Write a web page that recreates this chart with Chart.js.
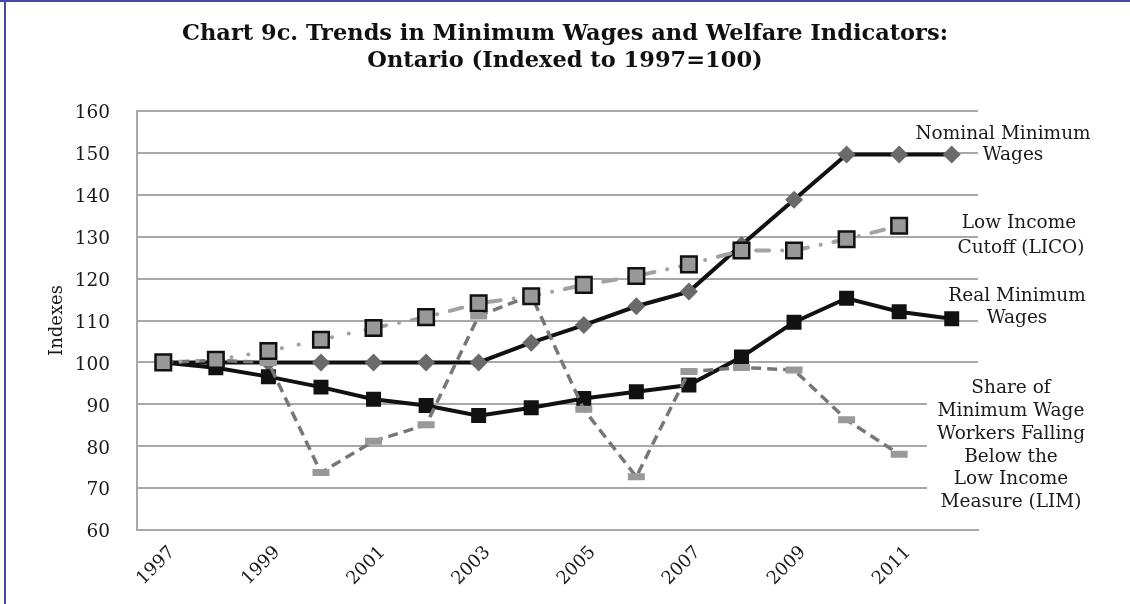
<!DOCTYPE html>
<html>
<head>
<meta charset="utf-8">
<title>Chart 9c. Trends in Minimum Wages and Welfare Indicators: Ontario</title>
<script src="https://cdn.jsdelivr.net/npm/chart.js@4.4.1/dist/chart.umd.min.js"></script>
<style>
  html, body { margin: 0; padding: 0; background: #fff; }
  canvas { display: block; }
</style>
</head>
<body>
<canvas id="chart" width="1130" height="604"></canvas>
<script>
// ---- data (Ontario, indexed to 1997 = 100) ----
const years = ['1997', '1998', '1999', '2000', '2001', '2002', '2003', '2004',
               '2005', '2006', '2007', '2008', '2009', '2010', '2011', '2012'];
const labelledYears = ['1997', '1999', '2001', '2003', '2005', '2007', '2009', '2011'];

const nominalMinWage = [100, 100, 100, 100, 100, 100, 100, 104.7,
                        108.9, 113.4, 116.9, 128, 138.8, 149.6, 149.6, 149.6];
const realMinWage    = [100, 98.7, 96.6, 94.1, 91.2, 89.7, 87.3, 89.2,
                        91.4, 93.0, 94.6, 101.3, 109.6, 115.3, 112.1, 110.4];
const lowIncomeCutoff = [100, 100.6, 102.7, 105.4, 108.2, 110.8, 114.1, 115.8,
                         118.5, 120.6, 123.4, 126.7, 126.7, 129.4, 132.6, null];
const shareBelowLIM  = [100, 100.5, 100, 73.7, 81.2, 85.1, 111.1, 116,
                        88.8, 72.7, 97.8, 98.8, 98.2, 86.3, 78.1, null];

const yMin = 60, yMax = 160, yStep = 10;

const titleLines = ['Chart 9c. Trends in Minimum Wages and Welfare Indicators:',
                    'Ontario (Indexed to 1997=100)'];
const yAxisTitle = 'Indexes';
const noteNominal = ['Nominal Minimum', 'Wages'];
const noteLICO    = ['Low Income', 'Cutoff (LICO)'];
const noteReal    = ['Real Minimum', 'Wages'];
const noteLIM     = ['Share of', 'Minimum Wage', 'Workers Falling', 'Below the', 'Low Income', 'Measure (LIM)'];

// ---- styling ----
const SERIF = '"DejaVu Serif", "Liberation Serif", serif';
const TEXT = '#1a1a1a';
const GRID = '#a8a8a8';

// Background, frame lines, title, and the series notes at the right.
const decorations = {
  id: 'decorations',
  beforeDraw(chart) {
    const ctx = chart.ctx;
    ctx.save();
    ctx.fillStyle = '#fff';
    ctx.fillRect(0, 0, chart.width, chart.height);
    ctx.strokeStyle = '#4646a6';
    ctx.lineWidth = 2;
    ctx.beginPath();
    ctx.moveTo(0, 1); ctx.lineTo(chart.width, 1);
    ctx.moveTo(5, 0); ctx.lineTo(5, chart.height);
    ctx.stroke();

    ctx.fillStyle = '#111';
    ctx.font = 'bold 22.5px ' + SERIF;
    ctx.textAlign = 'center';
    ctx.textBaseline = 'alphabetic';
    ctx.fillText(titleLines[0], 565, 40);
    ctx.fillText(titleLines[1], 565, 67);
    ctx.restore();
  },
  afterDraw(chart) {
    const ctx = chart.ctx;
    ctx.save();
    // the LIM note sits on a white box that hides the grid behind it
    ctx.fillStyle = '#fff';
    ctx.fillRect(927, 372, 203, 144);

    ctx.fillStyle = TEXT;
    ctx.font = '18.5px ' + SERIF;
    ctx.textAlign = 'center';
    ctx.textBaseline = 'alphabetic';
    const notes = [
      { lines: noteNominal, xs: [1003, 1013], ys: [139, 160] },
      { lines: noteLICO,    xs: [1019, 1021], ys: [228, 253] },
      { lines: noteReal,    xs: [1017, 1017], ys: [301, 323] },
      { lines: noteLIM,     xs: [1011, 1011, 1011, 1011, 1011, 1011],
        ys: [393, 416, 439, 461.5, 484, 507] }
    ];
    notes.forEach(n => n.lines.forEach((t, i) => ctx.fillText(t, n.xs[i], n.ys[i])));
    ctx.restore();
  }
};

new Chart(document.getElementById('chart'), {
  type: 'line',
  data: {
    labels: years,
    datasets: [
      {
        label: noteLICO.join(' '),
        data: lowIncomeCutoff,
        borderColor: '#a2a2a2',
        borderWidth: 4,
        borderCapStyle: 'round',
        segment: {
          borderDash: c => c.p0DataIndex < 4 ? [0.1, 17] : [13, 13, 0.1, 13]
        },
        pointStyle: 'rect',
        pointRadius: 11,
        pointBackgroundColor: '#999999',
        pointBorderColor: '#111',
        pointBorderWidth: 2.5,
        tension: 0
      },
      {
        label: noteLIM.join(' '),
        data: shareBelowLIM,
        borderColor: '#777777',
        borderWidth: 3.5,
        borderDash: [10, 6],
        pointStyle: 'line',
        pointRadius: 8.5,
        pointBorderColor: '#999999',
        pointBackgroundColor: '#999999',
        pointBorderWidth: 7,
        tension: 0
      },
      {
        label: noteReal.join(' '),
        data: realMinWage,
        borderColor: '#111',
        borderWidth: 4,
        pointStyle: 'rect',
        pointRadius: 10.6,
        pointBackgroundColor: '#111',
        pointBorderWidth: 0,
        tension: 0
      },
      {
        label: noteNominal.join(' '),
        data: nominalMinWage,
        borderColor: '#111',
        borderWidth: 4,
        pointStyle: 'rectRot',
        pointRadius: 9,
        pointBackgroundColor: '#6a6a6a',
        pointBorderWidth: 0,
        tension: 0
      }
    ]
  },
  options: {
    responsive: false,
    devicePixelRatio: 1,
    animation: false,
    events: [],
    layout: { padding: { top: 111, right: 152, left: 0, bottom: 0 } },
    plugins: {
      legend: { display: false },
      title: { display: false },
      tooltip: { enabled: false }
    },
    scales: {
      x: {
        type: 'category',
        offset: true,
        afterFit: s => { s.height = 74; },
        grid: { display: false, drawTicks: false },
        border: { display: true, color: GRID, width: 2 },
        ticks: {
          autoSkip: false,
          maxRotation: 45,
          minRotation: 45,
          padding: 12,
          labelOffset: 9,
          color: TEXT,
          font: { family: SERIF, size: 18 },
          callback: function (v, i) {
            const y = years[i];
            return labelledYears.includes(y) ? y : '';
          }
        }
      },
      y: {
        min: yMin,
        max: yMax,
        afterFit: s => { s.width = 137; },
        grid: { color: GRID, lineWidth: 2, drawTicks: false },
        border: { display: true, color: GRID, width: 2 },
        ticks: {
          stepSize: yStep,
          padding: 27,
          labelOffset: 2.5,
          color: TEXT,
          font: { family: SERIF, size: 18.5 }
        },
        title: {
          display: true,
          text: yAxisTitle,
          color: TEXT,
          font: { family: SERIF, size: 18 },
          padding: { top: 47, bottom: 0 }
        }
      }
    }
  },
  plugins: [decorations]
});
</script>
</body>
</html>
